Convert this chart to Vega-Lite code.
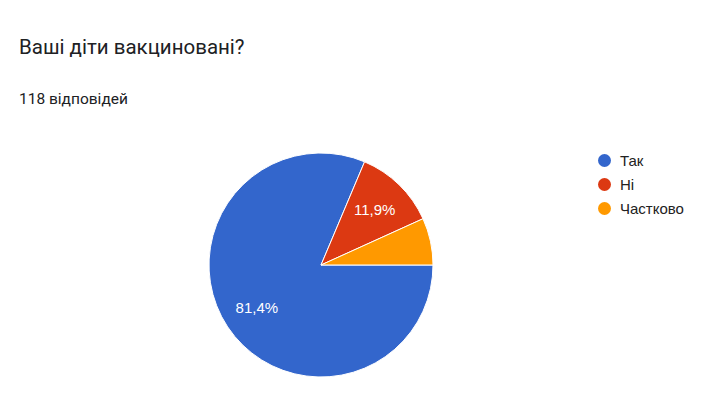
{
  "$schema": "https://vega.github.io/schema/vega-lite/v6.json",
  "autosize": "none",
  "width": 224,
  "height": 224,
  "padding": {"left": 209, "top": 153, "right": 276, "bottom": 39},
  "background": "#ffffff",
  "title": {
    "text": "Ваші діти вакциновані?",
    "subtitle": "118 відповідей",
    "anchor": "start",
    "frame": "group",
    "dx": -190,
    "offset": 44,
    "font": "Roboto",
    "fontSize": 20.5,
    "fontWeight": "normal",
    "color": "#202124",
    "subtitleFont": "Roboto",
    "subtitleFontSize": 15.5,
    "subtitleColor": "#202124",
    "subtitlePadding": 33
  },
  "data": {
    "values": [
      {"answer": "Так", "count": 96, "ord": 1, "label": "81,4%"},
      {"answer": "Ні", "count": 14, "ord": 2, "label": "11,9%"},
      {"answer": "Частково", "count": 8, "ord": 3, "label": ""}
    ]
  },
  "encoding": {
    "theta": {
      "field": "count",
      "type": "quantitative",
      "stack": true,
      "scale": {"range": [1.5708, 7.8540]}
    },
    "order": {"field": "ord", "type": "quantitative"}
  },
  "layer": [
    {
      "mark": {"type": "arc", "stroke": "#ffffff", "strokeWidth": 1},
      "encoding": {
        "color": {
          "field": "answer",
          "type": "nominal",
          "title": null,
          "scale": {
            "domain": ["Так", "Ні", "Частково"],
            "range": ["#3366cc", "#dc3912", "#ff9900"]
          },
          "legend": {
            "orient": "none",
            "legendX": 388,
            "legendY": 0,
            "symbolType": "circle",
            "symbolSize": 169,
            "symbolStrokeWidth": 0,
            "labelFont": "Liberation Sans",
            "labelFontSize": 15,
            "labelColor": "#222222",
            "labelOffset": 8,
            "rowPadding": 8
          }
        }
      }
    },
    {
      "mark": {
        "type": "text",
        "radius": 77,
        "font": "Liberation Sans",
        "fontSize": 15,
        "color": "#ffffff"
      },
      "encoding": {"text": {"field": "label"}}
    }
  ],
  "config": {"view": {"stroke": null}}
}
